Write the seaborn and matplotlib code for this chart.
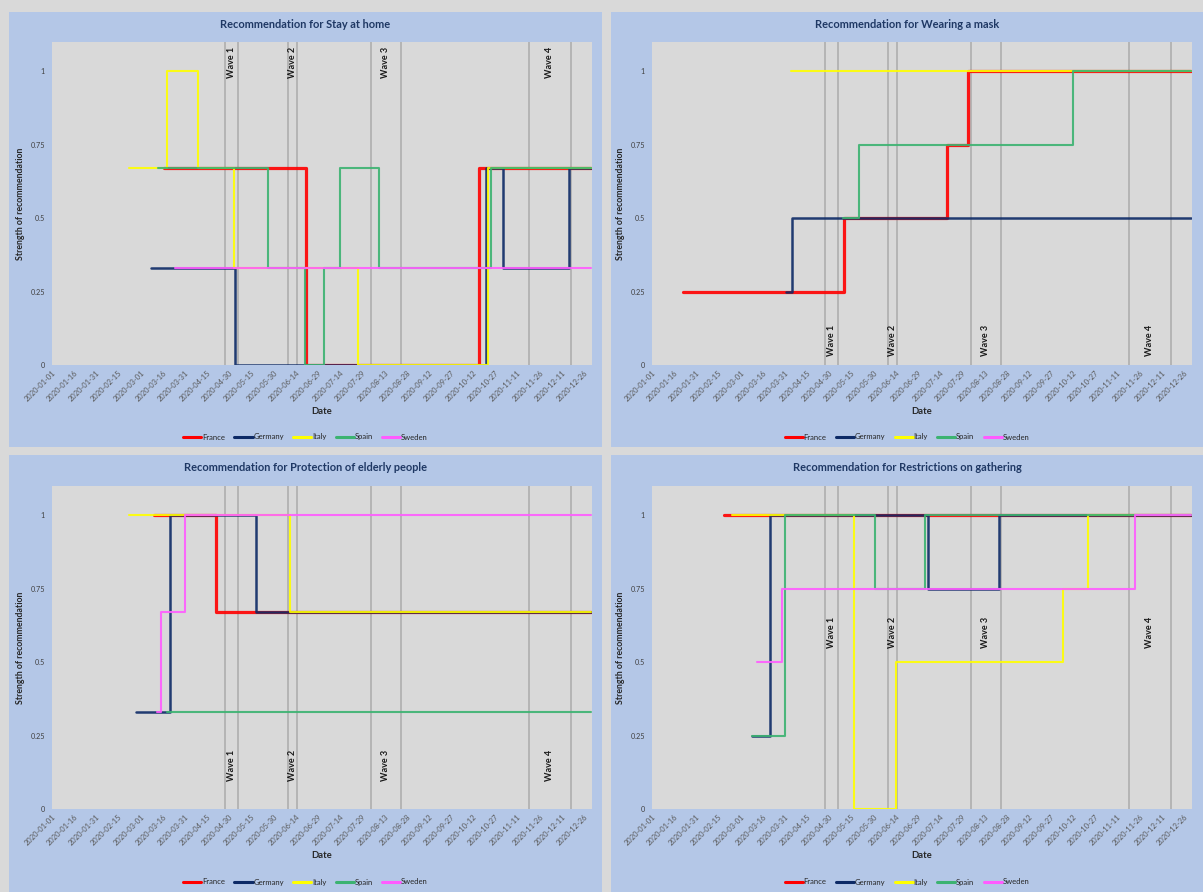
import pandas as pd
import matplotlib
matplotlib.use("Agg")
import matplotlib.pyplot as plt
import seaborn as sns
from matplotlib.lines import Line2D
from matplotlib.patches import Rectangle

# canvas size in pixels
W, H = 1203, 892

COUNTRIES = ["France", "Germany", "Italy", "Spain", "Sweden"]
COLORS = {"France": "#ff0000", "Germany": "#0d2a66", "Italy": "#ffff00",
          "Spain": "#3cb371", "Sweden": "#ff5cff"}
WIDTHS = {"France": 2.3, "Germany": 1.8, "Italy": 1.5, "Spain": 1.5, "Sweden": 1.5}
END_DATE = "2020-12-31"

# change points (date, value)
stay_france = [("2020-03-17", 0.67), ("2020-06-21", 0), ("2020-10-16", 0.67)]
stay_germany = [("2020-03-08", 0.33), ("2020-05-04", 0), ("2020-10-21", 0.67),
                ("2020-11-01", 0.33), ("2020-12-16", 0.67)]
stay_italy = [("2020-02-22", 0.67), ("2020-03-19", 1), ("2020-04-09", 0.67),
              ("2020-05-03", 0.33), ("2020-07-26", 0), ("2020-10-22", 0.67)]
stay_spain = [("2020-03-13", 0.67), ("2020-05-26", 0.33), ("2020-06-20", 0),
              ("2020-07-03", 0.33), ("2020-07-14", 0.67), ("2020-08-09", 0.33),
              ("2020-10-24", 0.67)]
stay_sweden = [("2020-03-24", 0.33)]

mask_france = [("2020-01-22", 0.25), ("2020-05-10", 0.5), ("2020-07-19", 0.75),
               ("2020-08-02", 1)]
mask_germany = [("2020-04-01", 0.25), ("2020-04-05", 0.5)]
mask_italy = [("2020-04-04", 1)]
mask_spain = [("2020-05-09", 0.5), ("2020-05-20", 0.75), ("2020-10-12", 1)]
mask_sweden = []

elderly_france = [("2020-03-10", 1), ("2020-04-21", 0.67)]
elderly_germany = [("2020-02-27", 0.33), ("2020-03-21", 1), ("2020-05-18", 0.67)]
elderly_italy = [("2020-02-22", 1), ("2020-06-10", 0.67)]
elderly_spain = [("2020-03-19", 0.33)]
elderly_sweden = [("2020-03-12", 0.33), ("2020-03-15", 0.67), ("2020-03-31", 1)]

gather_france = [("2020-02-19", 1)]
gather_germany = [("2020-03-09", 0.25), ("2020-03-21", 1), ("2020-07-06", 0.75),
                  ("2020-08-23", 1)]
gather_italy = [("2020-02-24", 1), ("2020-05-17", 0), ("2020-06-14", 0.5),
                ("2020-10-05", 0.75), ("2020-10-22", 1)]
gather_spain = [("2020-03-09", 0.25), ("2020-03-31", 1), ("2020-05-31", 0.75),
                ("2020-07-04", 1)]
gather_sweden = [("2020-03-12", 0.5), ("2020-03-29", 0.75), ("2020-11-23", 1)]

WAVE_LINES = ["2020-04-27", "2020-05-06", "2020-06-09", "2020-06-15",
              "2020-08-04", "2020-08-24", "2020-11-19", "2020-12-17"]
WAVE_NAMES = ["Wave 1", "Wave 2", "Wave 3", "Wave 4"]

TITLES = ["Recommendation for Stay at home", "Recommendation for Wearing a mask",
          "Recommendation for Protection of elderly people",
          "Recommendation for Restrictions on gathering"]


def build_frame(series):
    rows = []
    for country, pts in zip(COUNTRIES, series):
        if not pts:
            continue
        pts = pts + [(END_DATE, pts[-1][1])]
        for d, v in pts:
            rows.append({"date": pd.Timestamp(d), "value": v, "country": country})
    return pd.DataFrame(rows)


sns.set_style("white")
plt.rcParams["font.family"] = ["Lato", "DejaVu Sans"]

fig = plt.figure(figsize=(W / 100, H / 100), dpi=100, facecolor="#d9d9d9")


def fig_box(x0, y0, x1, y1):
    return [x0 / W, 1 - y1 / H, (x1 - x0) / W, (y1 - y0) / H]


def draw_panel(panel, axbox, title, series, wave_y):
    px0, py0, px1, py1 = panel
    b = fig_box(*panel)
    fig.patches.append(Rectangle((b[0], b[1]), b[2], b[3], transform=fig.transFigure,
                                 facecolor="#b4c7e7", edgecolor="none", zorder=-5))
    ax = fig.add_axes(fig_box(*axbox))
    ax.set_facecolor("#d9d9d9")
    for d in WAVE_LINES:
        ax.axvline(pd.Timestamp(d), color="#ababab", lw=1.1, zorder=1)
    for i, name in enumerate(WAVE_NAMES):
        a, b2 = pd.Timestamp(WAVE_LINES[2 * i]), pd.Timestamp(WAVE_LINES[2 * i + 1])
        ax.text(a + (b2 - a) / 2, wave_y, name, rotation=90, ha="center", va="center",
                fontsize=6.5, fontweight="bold", color="#1a1a1a", zorder=3)

    df = build_frame(series)
    sns.lineplot(data=df, x="date", y="value", hue="country", size="country",
                 hue_order=COUNTRIES, size_order=COUNTRIES, palette=COLORS,
                 sizes=WIDTHS, estimator=None, drawstyle="steps-post",
                 alpha=0.9, legend=False, ax=ax, zorder=2)

    ticks = pd.date_range("2020-01-01", "2020-12-31", freq="15D")
    ax.set_xticks(ticks)
    ax.set_xticklabels([t.strftime("%Y-%m-%d") for t in ticks], rotation=45,
                       ha="right", rotation_mode="anchor", fontsize=5.4, color="#595959")
    ax.set_xlim(pd.Timestamp("2020-01-01"), pd.Timestamp("2020-12-31 12:00"))
    ax.set_ylim(0, 1.1)
    ax.set_yticks([0, 0.25, 0.5, 0.75, 1])
    ax.set_yticklabels(["0", "0.25", "0.5", "0.75", "1"], fontsize=5.2, color="#404040")
    ax.tick_params(axis="y", length=0, pad=5)
    ax.tick_params(axis="x", length=0, pad=3)
    for s in ax.spines.values():
        s.set_visible(False)
    ax.set_xlabel("Date", fontsize=6.8, fontweight="bold", labelpad=3)
    ax.set_ylabel("Strength of recommendation", fontsize=6.3, fontweight="bold", labelpad=4)

    cx = (px0 + px1) / 2
    fig.text(cx / W, 1 - (py0 + 13) / H, title, ha="center", va="center",
             fontsize=7.9, fontweight="bold", color="#1f3864")
    handles = [Line2D([], [], color=COLORS[c], lw=2.2) for c in COUNTRIES]
    fig.legend(handles, COUNTRIES, loc="center", bbox_to_anchor=(cx / W, 1 - (py1 - 10) / H),
               ncol=5, frameon=False, fontsize=5.5, handlelength=2.4, handletextpad=0.1,
               columnspacing=1.2)
    return ax


draw_panel((9, 12, 602, 447), (52, 42, 592, 365), TITLES[0],
           [stay_france, stay_germany, stay_italy, stay_spain, stay_sweden], 1.03)
draw_panel((611, 12, 1203, 447), (652, 42, 1192, 365), TITLES[1],
           [mask_france, mask_germany, mask_italy, mask_spain, mask_sweden], 0.085)
draw_panel((9, 455, 602, 892), (52, 486, 592, 809), TITLES[2],
           [elderly_france, elderly_germany, elderly_italy, elderly_spain, elderly_sweden], 0.15)
draw_panel((611, 455, 1203, 892), (652, 486, 1192, 809), TITLES[3],
           [gather_france, gather_germany, gather_italy, gather_spain, gather_sweden], 0.6)

fig.savefig("out.png", dpi=100, facecolor=fig.get_facecolor())
